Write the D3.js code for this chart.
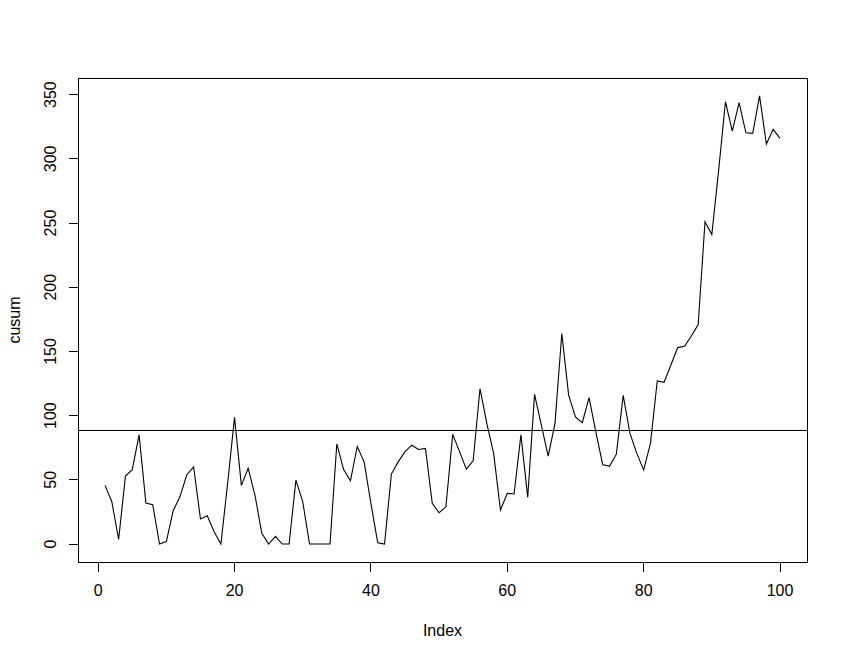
<!DOCTYPE html>
<html><head><meta charset="utf-8">
<script src="https://cdn.jsdelivr.net/npm/d3@7"></script>
<style>body{margin:0;background:#fff}svg{display:block}text{font-family:"Liberation Sans",Arial,sans-serif;font-size:16px;fill:#000}.crisp{shape-rendering:crispEdges}</style>
</head><body>
<script>
const cusum = [45.7,33,3.7,53,58,85,32,30.6,0,2,26,37,54,60,19.5,22,9.6,0,48,98.7,
45.7,59,38,8.3,0,6,0,0,49.8,33,0,0,0,0,78,58,49.3,76,64,31.7,
1,0,54.5,64,72,77,73.7,74.5,31.7,24.4,29,85.4,72,58.4,65,121,94,70.6,26.5,39.5,
39,85,36.4,116.6,92.7,68.5,94,164,116,99,94.5,114,87,61.8,60.7,70,115.8,86,70.6,57.6,
78.4,127,126,139.4,153,154,162,171,251,241,291,344.5,321.6,343.7,320.3,319.8,349,311.5,323,316];
const hlineValue = 88.8;
const xTicks = [0,20,40,60,80,100];
const yTicks = [0,50,100,150,200,250,300,350];
const xLabel = "Index", yLabel = "cusum";

const W = 847, H = 659;
const L = 78, R = 807, T = 78, B = 562;
const svg = d3.select("body").append("svg").attr("width", W).attr("height", H);

const n = cusum.length;
const xr = [1, n], yr = [d3.min(cusum), d3.max(cusum)];
const xpad = (xr[1]-xr[0])*0.04, ypad = (yr[1]-yr[0])*0.04;
const x = d3.scaleLinear().domain([xr[0]-xpad, xr[1]+xpad]).range([L, R]);
const y = d3.scaleLinear().domain([yr[0]-ypad, yr[1]+ypad]).range([B, T]);

svg.append("rect").attr("class","crisp").attr("x", L).attr("y", T).attr("width", R-L).attr("height", B-T)
  .attr("fill", "none").attr("stroke", "#000").attr("stroke-width", 1);

const line = d3.line().x((d,i)=>x(i+1)).y(d=>y(d));
svg.append("path").datum(cusum).attr("d", line).attr("fill","none").attr("stroke","#000").attr("stroke-width",1.1);

svg.append("line").attr("class","crisp").attr("x1", L).attr("x2", R).attr("y1", y(hlineValue)).attr("y2", y(hlineValue))
  .attr("stroke","#000").attr("stroke-width",1);

// x axis
const xa = svg.append("g").attr("transform", `translate(0,${B})`);
xa.append("line").attr("class","crisp").attr("x1", x(xTicks[0])).attr("x2", x(xTicks[xTicks.length-1])).attr("stroke","#000");
xTicks.forEach(t=>{
  xa.append("line").attr("class","crisp").attr("x1", x(t)).attr("x2", x(t)).attr("y1",0).attr("y2",9.5).attr("stroke","#000");
  xa.append("text").attr("x", x(t)).attr("y", 34).attr("text-anchor","middle").text(t);
});
// y axis
const ya = svg.append("g").attr("transform", `translate(${L},0)`);
ya.append("line").attr("class","crisp").attr("y1", y(yTicks[0])).attr("y2", y(yTicks[yTicks.length-1])).attr("stroke","#000");
yTicks.forEach(t=>{
  ya.append("line").attr("class","crisp").attr("y1", y(t)).attr("y2", y(t)).attr("x1",0).attr("x2",-9.5).attr("stroke","#000");
  ya.append("text").attr("transform", `translate(-22,${y(t)}) rotate(-90)`).attr("text-anchor","middle").text(t);
});
svg.append("text").attr("x", (L+R)/2).attr("y", 636).attr("text-anchor","middle").text(xLabel);
svg.append("text").attr("transform", `translate(20,${(T+B)/2}) rotate(-90)`).attr("text-anchor","middle").text(yLabel);
</script>
</body></html>
